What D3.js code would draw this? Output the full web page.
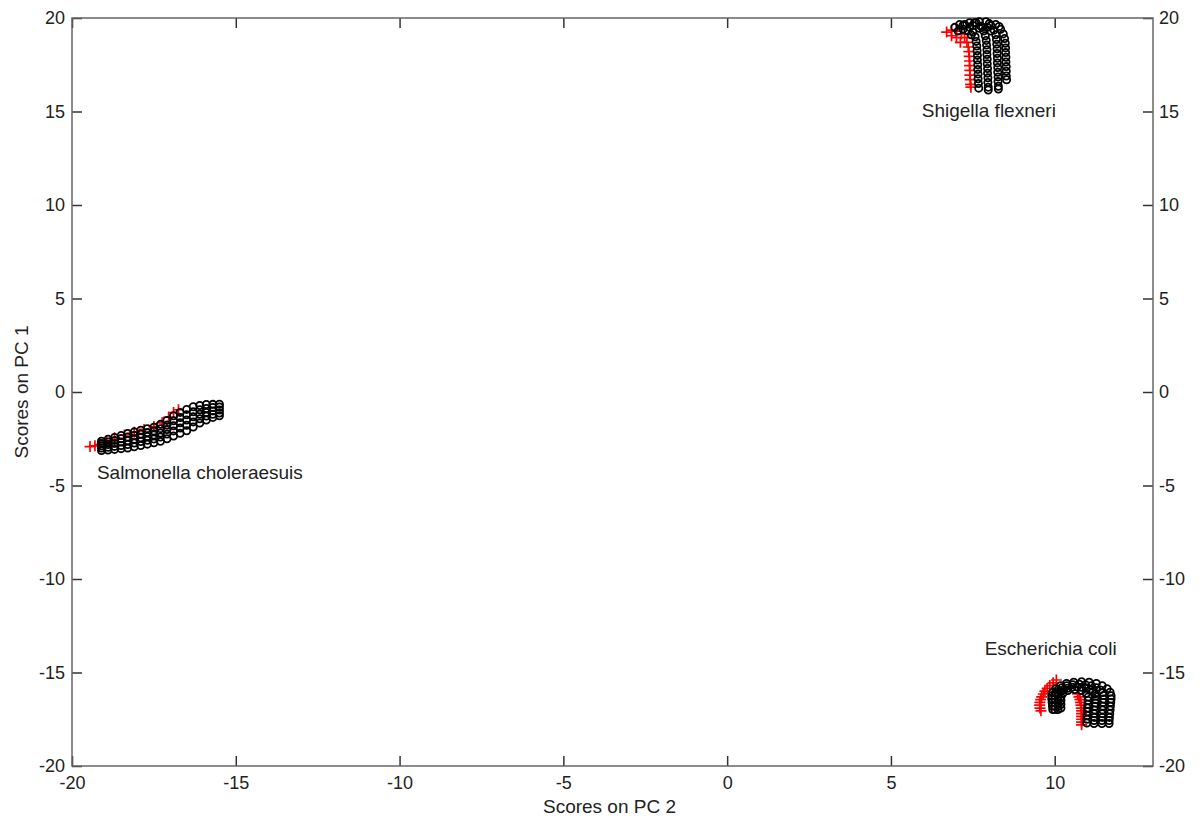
<!DOCTYPE html>
<meta charset="utf-8">
<style>
    body { margin: 0; background: #fff; }

    text {
        font-family: Arial, "Liberation Sans", Helvetica, sans-serif;
        font-size: 19px;
        fill: #222;
    }

    .tick text { font-size: 18px; }

    .frame {
        fill: none;
        stroke: #666;
        stroke-width: 1.5px;
    }

    .tick line {
        stroke: #333;
        stroke-width: 1.5px;
    }

    .domain { display: none; }

    .score-black {
        fill: none;
        stroke: #000;
        stroke-width: 1.8px;
    }

    .score-red {
        fill: none;
        stroke: #f00;
        stroke-width: 1.7px;
    }
</style>

<body>
    <svg width="1199" height="816"></svg>
</body>

<script src="https://d3js.org/d3.v7.min.js"></script>
<script>

    // ticks
    var xTicks = [-20, -15, -10, -5, 0, 5, 10];
    var yTicks = [-20, -15, -10, -5, 0, 5, 10, 15, 20];

    // cluster labels and where they sit (data units, start of text baseline)
    var clusterNames = ["Shigella flexneri", "Salmonella choleraesuis", "Escherichia coli"];
    var clusterLabelAt = [[5.94, 14.71], [-19.24, -4.65], [7.86, -14.07]];

    // Shigella flexneri - red series and four black strands
    var shigellaRed = [[6.7,19.25],[6.85,19.35],[7.0,19.3],[7.15,19.15],[7.25,18.95],[7.32,18.7],[7.36,18.45],
        [7.38,18.2],[7.39,17.95],[7.4,17.7],[7.4,17.45],[7.41,17.2],[7.41,16.95],[7.42,16.7],[7.43,16.45],[7.44,16.3],
        [6.85,19.05],[7.0,18.95],[7.12,18.7]];
    var shigellaBlack = [
        [[6.95,19.5],[7.1,19.65],[7.25,19.65],[7.4,19.5],[7.5,19.25],[7.57,19.0],[7.6,18.75],[7.62,18.5],[7.63,18.25],
         [7.64,18.0],[7.64,17.75],[7.65,17.5],[7.65,17.25],[7.66,17.0],[7.66,16.75],[7.67,16.5],[7.68,16.25]],
        [[7.2,19.6],[7.4,19.75],[7.6,19.75],[7.75,19.55],[7.83,19.3],[7.88,19.05],[7.91,18.8],[7.92,18.55],[7.93,18.3],
         [7.93,18.05],[7.94,17.8],[7.94,17.55],[7.95,17.3],[7.95,17.05],[7.96,16.8],[7.96,16.55],[7.97,16.3],[7.97,16.15]],
        [[7.5,19.6],[7.7,19.8],[7.9,19.8],[8.05,19.6],[8.15,19.35],[8.2,19.1],[8.22,18.85],[8.23,18.6],[8.24,18.35],
         [8.24,18.1],[8.25,17.85],[8.25,17.6],[8.26,17.35],[8.26,17.1],[8.27,16.85],[8.27,16.6],[8.28,16.35],[8.28,16.2]],
        [[7.8,19.5],[8.0,19.7],[8.2,19.65],[8.35,19.4],[8.43,19.15],[8.47,18.9],[8.49,18.65],[8.5,18.4],[8.5,18.15],
         [8.51,17.9],[8.51,17.65],[8.52,17.4],[8.52,17.15],[8.52,16.9],[8.53,16.7]],
        [[7.05,19.3],[7.2,19.4],[7.35,19.3],[7.45,19.1],[7.7,19.45],[7.95,19.5],[8.05,19.3],[8.3,19.55],[7.55,19.75]]
    ];

    // Salmonella choleraesuis - shared PC 2 grid, five black strands on PC 1
    var salmonellaX = [-19.1,-18.9,-18.7,-18.5,-18.3,-18.1,-17.9,-17.7,-17.5,-17.3,-17.1,-16.9,-16.7,-16.5,-16.3,-16.1,-15.9,-15.7,-15.5];
    var salmonellaY = [
        [-2.63,-2.53,-2.43,-2.33,-2.22,-2.13,-2.04,-1.96,-1.88,-1.73,-1.52,-1.27,-1.09,-0.93,-0.79,-0.72,-0.67,-0.66,-0.65],
        [-2.76,-2.67,-2.59,-2.50,-2.41,-2.33,-2.25,-2.17,-2.09,-1.96,-1.77,-1.54,-1.37,-1.22,-1.06,-0.95,-0.88,-0.83,-0.80],
        [-2.88,-2.81,-2.75,-2.68,-2.61,-2.53,-2.45,-2.38,-2.30,-2.19,-2.01,-1.81,-1.65,-1.50,-1.33,-1.19,-1.09,-1.01,-0.96],
        [-3.00,-2.96,-2.91,-2.86,-2.81,-2.73,-2.65,-2.58,-2.51,-2.41,-2.25,-2.08,-1.93,-1.78,-1.60,-1.43,-1.29,-1.19,-1.12],
        [-3.13,-3.10,-3.07,-3.03,-3.00,-2.93,-2.86,-2.79,-2.72,-2.64,-2.50,-2.35,-2.21,-2.07,-1.87,-1.66,-1.50,-1.36,-1.27]
    ];
    var salmonellaRed = [[-19.45,-2.92],[-19.3,-2.88],[-19.15,-2.8],[-18.95,-2.6],[-18.7,-2.45],[-18.4,-2.3],
        [-18.1,-2.15],[-17.8,-2.0],[-17.5,-1.85],[-17.25,-1.65],[-17.05,-1.35],[-16.9,-1.1],[-16.75,-0.95]];

    // Escherichia coli - four black arches, red series left and inside
    var coliBlack = [
        [[9.94,-16.98],[9.93,-16.8],[9.92,-16.6],[9.91,-16.42],[9.91,-16.24],[9.94,-16.05],[10.03,-15.87],[10.18,-15.71],
         [10.36,-15.59],[10.58,-15.52],[10.82,-15.49],[11.05,-15.52],[11.27,-15.59],[11.45,-15.71],[11.60,-15.87],
         [11.69,-16.05],[11.72,-16.24],[11.72,-16.42],[11.71,-16.6],[11.70,-16.8],[11.69,-17.0],[11.68,-17.2],
         [11.67,-17.4],[11.66,-17.57],[11.66,-17.73]],
        [[10.0,-16.98],[10.0,-16.8],[10.0,-16.6],[10.0,-16.42],[10.0,-16.23],[10.03,-16.07],[10.10,-15.93],[10.22,-15.81],
         [10.37,-15.71],[10.55,-15.65],[10.75,-15.63],[10.94,-15.65],[11.12,-15.71],[11.27,-15.81],[11.39,-15.93],
         [11.47,-16.07],[11.49,-16.23],[11.49,-16.42],[11.48,-16.6],[11.47,-16.8],[11.46,-17.0],[11.45,-17.2],
         [11.45,-17.4],[11.44,-17.57],[11.44,-17.73]],
        [[10.1,-16.98],[10.1,-16.81],[10.1,-16.63],[10.1,-16.45],[10.10,-16.27],[10.12,-16.14],[10.18,-16.02],
         [10.27,-15.92],[10.39,-15.84],[10.53,-15.79],[10.68,-15.77],[10.82,-15.79],[10.96,-15.84],[11.08,-15.92],
         [11.17,-16.02],[11.23,-16.14],[11.25,-16.27],[11.25,-16.45],[11.24,-16.63],[11.23,-16.81],[11.22,-17.0],
         [11.21,-17.2],[11.21,-17.4],[11.2,-17.57],[11.2,-17.73]],
        [[10.19,-16.9],[10.19,-16.7],[10.19,-16.5],[10.19,-16.31],[10.25,-16.11],[10.40,-15.96],[10.61,-15.91],
         [10.81,-15.96],[10.96,-16.11],[11.02,-16.31],[11.02,-16.5],[11.01,-16.7],[11.0,-16.9],[11.0,-17.1],
         [10.99,-17.3],[10.98,-17.5],[10.98,-17.7]]
    ];
    var coliRed = [[10.05,-15.4],[9.95,-15.55],[9.85,-15.7],[9.77,-15.85],[9.7,-16.0],[9.65,-16.15],[9.6,-16.3],
        [9.57,-16.45],[9.55,-16.6],[9.54,-16.75],[9.55,-16.9],[9.58,-17.05],
        [10.7,-16.15],[10.74,-16.3],[10.77,-16.45],[10.79,-16.6],[10.8,-16.75],[10.81,-16.9],[10.82,-17.05],
        [10.82,-17.2],[10.82,-17.35],[10.82,-17.5],[10.82,-17.65],[10.82,-17.8]];

    var svg = d3.select("svg"),
        width = +svg.attr("width"),
        height = +svg.attr("height");

    var margin = { left: 72, right: width - 1153, top: 18, bottom: height - 766 };

    var x = d3.scaleLinear().domain([-20, 13]).range([margin.left, width - margin.right]);
    var y = d3.scaleLinear().domain([-20, 20]).range([height - margin.bottom, margin.top]);

    var fmt = function (d) { return String(d); };   // plain hyphen minus like the original

    // axes: ticks point inward on all four sides
    svg.append("g")
        .attr("transform", "translate(0," + y(-20) + ")")
        .call(d3.axisBottom(x).tickValues(xTicks).tickSizeInner(-10).tickSizeOuter(0).tickPadding(10).tickFormat(fmt));
    svg.append("g")
        .attr("transform", "translate(0," + y(20) + ")")
        .call(d3.axisTop(x).tickValues(xTicks).tickSizeInner(-10).tickSizeOuter(0).tickFormat(""));
    svg.append("g")
        .attr("transform", "translate(" + x(-20) + ",0)")
        .call(d3.axisLeft(y).tickValues(yTicks).tickSizeInner(-10).tickSizeOuter(0).tickPadding(7).tickFormat(fmt));
    svg.append("g")
        .attr("transform", "translate(" + x(13) + ",0)")
        .call(d3.axisRight(y).tickValues(yTicks).tickSizeInner(-10).tickSizeOuter(0).tickPadding(6).tickFormat(fmt));

    svg.append("rect")
        .attr("class", "frame")
        .attr("x", x(-20))
        .attr("y", y(20))
        .attr("width", x(13) - x(-20))
        .attr("height", y(-20) - y(20));

    // axis titles
    svg.append("text")
        .attr("x", (x(-20) + x(13)) / 2 - 3)
        .attr("y", 813)
        .style("text-anchor", "middle")
        .text("Scores on PC 2");
    svg.append("text")
        .attr("transform", "translate(28," + y(0) + ") rotate(-90)")
        .style("text-anchor", "middle")
        .text("Scores on PC 1");

    var g = svg.append("g");

    function drawRed(points) {
        g.selectAll(null)
            .data(points)
            .enter().append("path")
            .attr("class", "score-red")
            .attr("d", "M-5.5,0H5.5M0,-5.5V5.5")
            .attr("transform", function (d) { return "translate(" + x(d[0]) + "," + y(d[1]) + ")"; });
    }

    function drawBlack(points) {
        g.selectAll(null)
            .data(points)
            .enter().append("circle")
            .attr("class", "score-black")
            .attr("r", 3.6)
            .attr("cx", function (d) { return x(d[0]); })
            .attr("cy", function (d) { return y(d[1]); });
    }

    // red first, black strands drawn over it
    drawRed(shigellaRed);
    shigellaBlack.forEach(drawBlack);

    drawRed(salmonellaRed);
    salmonellaY.forEach(function (strand) {
        drawBlack(strand.map(function (v, i) { return [salmonellaX[i], v]; }));
    });

    drawRed(coliRed);
    coliBlack.forEach(drawBlack);

    // cluster labels
    svg.selectAll(".cluster-label")
        .data(clusterNames)
        .enter().append("text")
        .attr("class", "cluster-label")
        .attr("x", function (d, i) { return x(clusterLabelAt[i][0]); })
        .attr("y", function (d, i) { return y(clusterLabelAt[i][1]); })
        .text(function (d) { return d; });

</script>
